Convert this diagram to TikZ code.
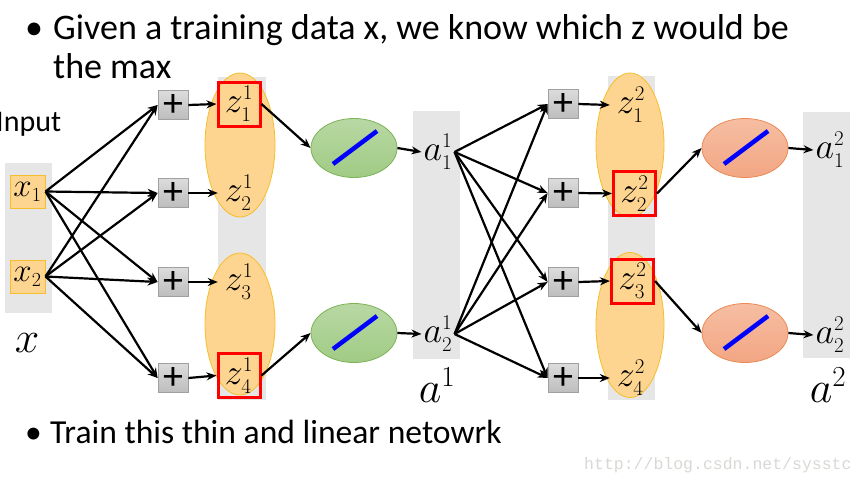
\RequirePackage{fix-cm}
\documentclass[tikz,border=0pt]{standalone}
\usepackage{fontspec}
\setmainfont{Carlito}
\setmonofont{Liberation Mono}
\DeclareMathSizes{36}{36}{21}{16}
\DeclareMathSizes{33}{33}{20}{15}
\DeclareMathSizes{44}{44}{29}{22}
\usetikzlibrary{arrows.meta,shapes.geometric}
\definecolor{colgray}{HTML}{E6E6E6}
\definecolor{zfill}{HTML}{FDD590}
\definecolor{zborder}{HTML}{F5BE2A}
\definecolor{gtop}{HTML}{B8D8A4}
\definecolor{gbot}{HTML}{A0CB84}
\definecolor{gborder}{HTML}{7DB356}
\definecolor{stop}{HTML}{F6BEA2}
\definecolor{sbot}{HTML}{F2A683}
\definecolor{sborder}{HTML}{EB8A55}
\definecolor{ptop}{HTML}{DCDCDC}
\definecolor{pbot}{HTML}{BDBDBD}
\definecolor{pborder}{HTML}{A0A0A0}
\definecolor{wm}{HTML}{D8D8D4}
\begin{document}
\begin{tikzpicture}[x=1pt,y=-1pt,
  zell/.style={ellipse,fill=zfill,draw=zborder,line width=0.8pt,inner sep=0pt},
  xbox/.style={fill=zfill,draw=zborder,line width=1pt,minimum width=35pt,minimum height=33pt,inner sep=0pt,font=\fontsize{33}{36}\selectfont},
  plusbox/.style={top color=ptop,bottom color=pbot,draw=pborder,line width=0.8pt,minimum width=30pt,minimum height=29pt,inner sep=0pt,font=\fontsize{40}{40}\selectfont},
  zlab/.style={minimum width=42pt,minimum height=44pt,inner sep=0pt,font=\fontsize{36}{40}\selectfont},
  redbox/.style={draw=red,line width=3pt},
  alab/.style={inner sep=2pt,font=\fontsize{36}{40}\selectfont},
  gell/.style={ellipse,top color=gtop,bottom color=gbot,draw=gborder,line width=0.8pt,minimum width=86pt,minimum height=59pt,inner sep=0pt},
  sell/.style={ellipse,top color=stop,bottom color=sbot,draw=sborder,line width=0.8pt,minimum width=86pt,minimum height=59pt,inner sep=0pt},
  arr/.style={-{Stealth[length=10pt,width=8pt]},line width=2.2pt,black},
  bline/.style={blue,line width=4.5pt},
  bigtxt/.style={inner sep=0pt,anchor=base west,font=\fontsize{36}{40}\selectfont},
  bottxt/.style={inner sep=0pt,anchor=base west,font=\fontsize{33.6}{38}\selectfont},
  biglab/.style={inner sep=0pt,font=\fontsize{44}{48}\selectfont}
]
\useasboundingbox (0,0) rectangle (865,483);
% title
\node[bigtxt] (b1) at (25,39) {•};
\node[bigtxt] (t1) at (53,39) {Given a training data x, we know which z would be};
\node[bigtxt] (t2) at (53,78) {the max};
\node[inner sep=0pt,anchor=base west,font=\fontsize{30}{32}\selectfont] (inp) at (-4,131) {Input};
% columns
\fill[colgray] (5,163) rectangle (52,313);
\fill[colgray] (218,77) rectangle (266,400);
\fill[colgray] (413,111) rectangle (460,359);
\fill[colgray] (608,76) rectangle (655,400);
\fill[colgray] (803,112) rectangle (850,358);
% z ellipses
\node[zell,minimum width=70pt,minimum height=144pt] (e1) at (240,145) {};
\node[zell,minimum width=70pt,minimum height=142pt] (e2) at (240,324) {};
\node[zell,minimum width=68pt,minimum height=144pt] (e3) at (630,145) {};
\node[zell,minimum width=68pt,minimum height=145pt] (e4) at (630,325) {};
% x inputs
\node[xbox] (x1) at (27.5,191.5) {$x_1$};
\node[xbox] (x2) at (27.5,276.5) {$x_2$};
\node[biglab] (xl) at (27,343) {$x$};
% layer 1 plus
\node[plusbox] (p1) at (173,105) {+};
\node[plusbox] (p2) at (173,193) {+};
\node[plusbox] (p3) at (173,282) {+};
\node[plusbox] (p4) at (173,378) {+};
% z1
\node[zlab,redbox] (z1) at (239,104) {$z^1_1$};
\node[zlab] (z2) at (239,193) {$z^1_2$};
\node[zlab] (z3) at (239,282) {$z^1_3$};
\node[zlab,redbox] (z4) at (239,375.5) {$z^1_4$};
% green
\node[gell] (g1) at (354,148) {};
\node[gell] (g2) at (354,333) {};
\draw[bline] (g1) ++(-21,16) -- ++(44,-33);
\draw[bline] (g2) ++(-21,16) -- ++(44,-33);
% a1
\node[alab] (a1) at (438,152) {$a^1_1$};
\node[alab] (a2) at (438,334) {$a^1_2$};
\node[biglab] (al1) at (437,385) {$a^1$};
% layer 2 plus
\node[plusbox] (q1) at (563,104) {+};
\node[plusbox] (q2) at (563,193) {+};
\node[plusbox] (q3) at (563,282) {+};
\node[plusbox] (q4) at (563,378) {+};
% z2
\node[zlab] (y1) at (631,105) {$z^2_1$};
\node[zlab,redbox] (y2) at (634.5,193.5) {$z^2_2$};
\node[zlab,redbox] (y3) at (632.5,281) {$z^2_3$};
\node[zlab] (y4) at (631,378) {$z^2_4$};
% salmon
\node[sell] (s1) at (745,148) {};
\node[sell] (s2) at (745,333) {};
\draw[bline] (s1) ++(-21,16) -- ++(44,-33);
\draw[bline] (s2) ++(-21,16) -- ++(44,-33);
% a2
\node[alab] (b21) at (830,150) {$a^2_1$};
\node[alab] (b22) at (830,335) {$a^2_2$};
\node[biglab] (al2) at (828,385) {$a^2$};
% connectors layer 1
\foreach \p in {p1,p2,p3,p4}{
  \draw[arr] (x1.east) -- (\p.west);
  \draw[arr] (x2.east) -- (\p.west);
}
\draw[arr] (p1.east) -- (z1.west);
\draw[arr] (p2.east) -- (z2.west);
\draw[arr] (p3.east) -- (z3.west);
\draw[arr] (p4.east) -- (z4.west);
\draw[arr] (z1.east) -- (g1.west);
\draw[arr] (z4.east) -- (g2.west);
\draw[arr] (g1.east) -- (a1.west);
\draw[arr] (g2.east) -- (a2.west);
\foreach \p in {q1,q2,q3,q4}{
  \draw[arr] (a1.east) -- (\p.west);
  \draw[arr] (a2.east) -- (\p.west);
}
\draw[arr] (q1.east) -- (y1.west);
\draw[arr] (q2.east) -- (y2.west);
\draw[arr] (q3.east) -- (y3.west);
\draw[arr] (q4.east) -- (y4.west);
\draw[arr] (y2.east) -- (s1.west);
\draw[arr] (y3.east) -- (s2.west);
\draw[arr] (s1.east) -- (b21.west);
\draw[arr] (s2.east) -- (b22.west);
% bottom
\node[bottxt] (b2) at (25,443) {•};
\node[bottxt] (t3) at (50,443) {Train this thin and linear netowrk};
\node[inner sep=0pt,anchor=base west,font=\ttfamily\fontsize{16.5}{18}\selectfont,text=wm] (wmk) at (584,469) {http://blog.csdn.net/sysstc};
\end{tikzpicture}
\end{document}
